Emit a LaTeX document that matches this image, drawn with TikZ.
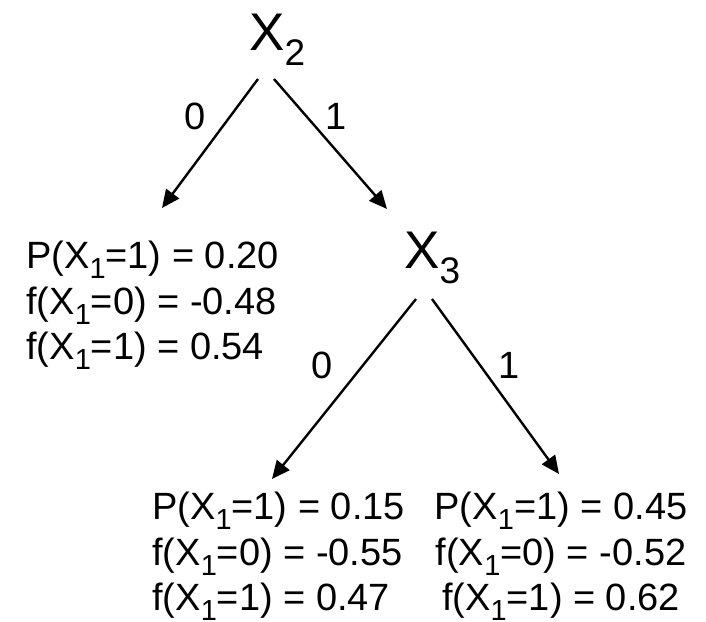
\documentclass[tikz,border=0pt]{standalone}
\usepackage{fontspec}
\setmainfont{Liberation Sans}
\usetikzlibrary{arrows.meta}
\newcommand{\leafsub}[1]{\raisebox{-10pt}{\fontsize{29}{29}\selectfont #1}}
\newcommand{\varsub}[1]{\raisebox{-15pt}{\fontsize{37}{37}\selectfont #1}}
\tikzset{
  varnode/.style={inner sep=0pt, anchor=base west, font=\fontsize{53}{60}\selectfont},
  leafnode/.style={inner sep=0pt, font=\fontsize{38}{45.5}\selectfont},
  edgelab/.style={inner sep=0pt, font=\fontsize{38}{42}\selectfont},
  branch/.style={line width=2.4pt, -{Triangle[length=18pt,width=16pt]}}
}
\begin{document}
\begin{tikzpicture}[x=1pt,y=-1pt]
\useasboundingbox (0,0) rectangle (706,621);
\node[varnode] (x2) at (249,50) {X\varsub{2}};
\node[varnode] (x3) at (404,268) {X\varsub{3}};
\node[leafnode, anchor=north west, align=left] (l0) at (26,241)
  {P(X\leafsub{1}=1) = 0.20\\ f(X\leafsub{1}=0) = -0.48\\ f(X\leafsub{1}=1) = 0.54};
\node[leafnode, anchor=north west, align=left] (l10) at (152,492)
  {P(X\leafsub{1}=1) = 0.15\\ f(X\leafsub{1}=0) = -0.55\\ f(X\leafsub{1}=1) = 0.47};
\node[leafnode, anchor=north, align=center] (l11) at (561,492)
  {P(X\leafsub{1}=1) = 0.45\\ f(X\leafsub{1}=0) = -0.52\\ f(X\leafsub{1}=1) = 0.62};
\coordinate (s20) at (258,79);
\coordinate (e20) at (162,208);
\coordinate (s21) at (274,79);
\coordinate (e21) at (387,209);
\coordinate (s30) at (416,299);
\coordinate (e30) at (272,479);
\coordinate (s31) at (432,299);
\coordinate (e31) at (559,474);
\draw[branch] (s20) -- (e20);
\draw[branch] (s21) -- (e21);
\draw[branch] (s30) -- (e30);
\draw[branch] (s31) -- (e31);
\node[edgelab] (b20) at (195,116) {0};
\node[edgelab] (b21) at (336,116) {1};
\node[edgelab] (b30) at (322,365) {0};
\node[edgelab] (b31) at (509,365) {1};
\end{tikzpicture}
\end{document}
